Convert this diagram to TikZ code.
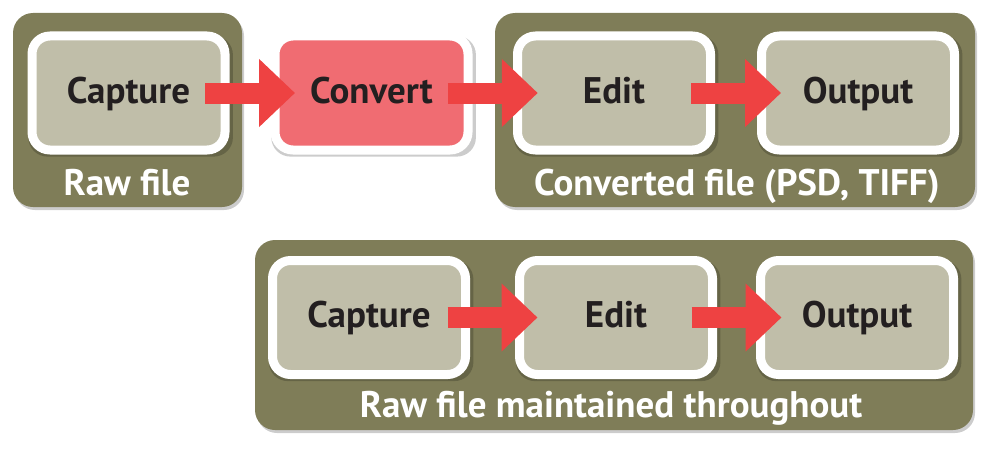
\documentclass[tikz,border=0pt]{standalone}
\usepackage{fontspec}
\setmainfont{PT Sans}
\usetikzlibrary{arrows.meta,shadows,calc}
\definecolor{panelolive}{HTML}{7F7D58}
\definecolor{stagegray}{HTML}{C0BEA9}
\definecolor{convred}{HTML}{F06C72}
\definecolor{arrowred}{HTML}{EE4242}
\definecolor{ink}{HTML}{231F20}
\tikzset{
  softshadow/.style={drop shadow={shadow xshift=2pt,shadow yshift=-3pt,opacity=0.2,fill=black}},
  stageshadow/.style={drop shadow={shadow xshift=2pt,shadow yshift=-3pt,shadow scale=1.06,opacity=0.2,fill=black}},
  panel/.style={fill=panelolive, rounded corners=20pt, inner sep=0pt, softshadow},
  stage/.style={draw=white, line width=9pt, fill=stagegray, rounded corners=18pt,
    minimum width=193pt, minimum height=114pt, inner sep=0pt, text=ink,
    text height=28pt, text depth=8pt,
    font=\fontsize{37}{37}\selectfont\bfseries, stageshadow},
  convstage/.style={stage, fill=convred},
  flow/.style={draw=arrowred, line width=21pt, -{Triangle[width=66pt,length=36pt]}},
  lbl/.style={text=white, font=\fontsize{37}{37}\selectfont\bfseries, inner sep=0pt, anchor=base}
}
\begin{document}
\begin{tikzpicture}[x=1pt,y=-1pt]
\useasboundingbox (0,0) rectangle (1000,452);
% panels
\node[panel, minimum width=229pt, minimum height=194pt] (p1) at (127.5,110) {};
\node[panel, minimum width=480pt, minimum height=194pt] (p2) at (735,110) {};
\node[panel, minimum width=718pt, minimum height=190pt] (p3) at (614,335) {};
% panel labels
\node[lbl] (l1) at (127,195) {Raw file};
\node[lbl] (l2) at (737,195) {Converted file (PSD, TIFF)};
\node[lbl] (l3) at (611,417) {Raw file maintained throughout};
% top row
\node[stage] (cap1) at (128.5,93) {Capture};
\node[convstage] (conv) at (371.5,93) {Convert};
\node[stage] (edit1) at (614,93) {Edit};
\node[stage] (out1) at (858,93) {Output};
% bottom row
\node[stage] (cap2) at (369,317.5) {Capture};
\node[stage] (edit2) at (616,317.5) {Edit};
\node[stage] (out2) at (857,317.5) {Output};
% arrows
\foreach \a/\b in {cap1/conv, conv/edit1, edit1/out1, cap2/edit2, edit2/out2}{
  \draw[flow] ($(\a.east)!.5!(\b.west)+(-45,0)$) -- ($(\a.east)!.5!(\b.west)+(45,0)$);
}
\end{tikzpicture}
\end{document}
